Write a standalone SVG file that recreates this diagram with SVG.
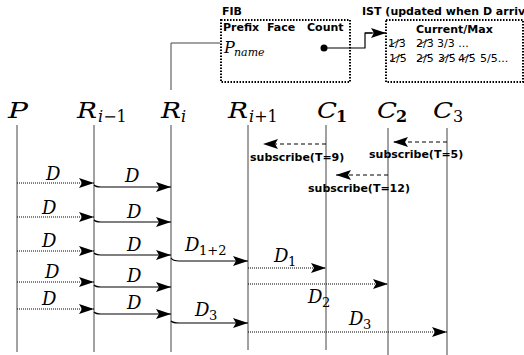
<svg xmlns="http://www.w3.org/2000/svg" width="524" height="355" viewBox="0 0 524 355">
<defs>
<style>
.life{stroke:#444;stroke-width:1;fill:none}
.m{font-family:"DejaVu Serif",serif;font-style:italic;fill:#000}
.up{font-style:normal}
.h{font-size:23px}
.hs{font-size:16px}
.d{font-size:18px}
.ds{font-size:13px}
.b{font-family:"DejaVu Sans",sans-serif;font-weight:bold;font-size:11px;fill:#000}
.r{font-family:"DejaVu Sans",sans-serif;font-size:11px;fill:#000}
.box{fill:none;stroke:#000;stroke-width:2;stroke-dasharray:1.5 1.5}
.solid{fill:none;stroke:#000;stroke-width:1.2;marker-end:url(#ah)}
.dot{fill:none;stroke:#000;stroke-width:1;stroke-dasharray:1 1;marker-end:url(#ah)}
.dash{fill:none;stroke:#000;stroke-width:1.2;stroke-dasharray:4 3;marker-end:url(#ah)}
.strike{fill:none;stroke:#000;stroke-width:0.9}
.thin{fill:none;stroke:#444;stroke-width:1}
</style>
<marker id="ah" markerWidth="15" markerHeight="10" refX="15" refY="5" orient="auto" markerUnits="userSpaceOnUse">
<path d="M0,0 L15,5 L0,10 L3,5 z" fill="#000"/>
</marker>
</defs>
<rect width="524" height="355" fill="#fff"/>

<g id="fib">
<text class="b" x="222" y="15">FIB</text>
<rect class="box" x="221" y="20" width="129" height="62"/>
<text class="b" x="223" y="31">Prefix</text>
<text class="b" x="267" y="31">Face</text>
<text class="b" x="307" y="31">Count</text>
<text class="m" x="224" y="53" font-size="16">P</text>
<text class="m" x="234" y="56" font-size="11">name</text>
<circle cx="324" cy="48" r="3.5" fill="#000"/>
</g>

<g id="ist">
<text class="b" x="362" y="15">IST (updated when D arriv</text>
<rect class="box" x="386" y="20" width="137" height="62"/>
<text class="b" x="416" y="33">Current/Max</text>
<text class="r" x="388" y="47">1/3</text>
<text class="r" x="416" y="47">2/3</text>
<text class="r" x="437" y="47">3/3 ...</text>
<text class="r" x="389" y="62">1/5</text>
<text class="r" x="416" y="62">2/5</text>
<text class="r" x="438" y="62">3/5</text>
<text class="r" x="458" y="62">4/5</text>
<text class="r" x="480" y="62">5/5...</text>
<path class="strike" d="M389,46 C394,43 399,40 404,39 M417,46 C422,43 427,40 432,39 M390,61 C395,58 400,55 405,54 M417,61 C422,58 427,55 432,54 M439,61 C444,58 449,55 454,54 M459,61 C464,58 469,55 474,54"/>
</g>

<g id="P">
<text class="m h" x="8" y="118" textLength="20" lengthAdjust="spacingAndGlyphs">P</text>
<line class="life" x1="17" y1="125" x2="17" y2="352"/>
</g>
<g id="R_im1">
<text class="m h" x="77" y="118" textLength="20" lengthAdjust="spacingAndGlyphs">R</text>
<text class="m hs" x="98" y="122">i<tspan class="up">−1</tspan></text>
<line class="life" x1="94" y1="125" x2="94" y2="352"/>
</g>
<g id="R_i">
<text class="m h" x="161" y="118" textLength="20" lengthAdjust="spacingAndGlyphs">R</text>
<text class="m hs" x="181" y="122">i</text>
<line class="life" x1="171" y1="125" x2="171" y2="352"/>
</g>
<g id="R_ip1">
<text class="m h" x="228" y="118" textLength="20" lengthAdjust="spacingAndGlyphs">R</text>
<text class="m hs" x="249" y="122">i<tspan class="up">+1</tspan></text>
<line class="life" x1="248" y1="125" x2="248" y2="350"/>
</g>
<g id="C1">
<text class="m h" x="317" y="118" textLength="20" lengthAdjust="spacingAndGlyphs">C</text>
<text class="m hs up" x="336" y="122" font-weight="bold">1</text>
<line class="life" x1="326" y1="125" x2="326" y2="350"/>
</g>
<g id="C2">
<text class="m h" x="377" y="118" textLength="20" lengthAdjust="spacingAndGlyphs">C</text>
<text class="m hs up" x="396" y="122" font-weight="bold">2</text>
<line class="life" x1="388" y1="128" x2="388" y2="355"/>
</g>
<g id="C3">
<text class="m h" x="433" y="118" textLength="20" lengthAdjust="spacingAndGlyphs">C</text>
<text class="m hs up" x="453" y="122">3</text>
<line class="life" x1="447" y1="128" x2="447" y2="355"/>
</g>

<g id="connectors">
<path class="thin" d="M171,90 L171,43 L220,43"/>
<path fill="none" stroke="#000" stroke-width="1.2" d="M324,48 L365,48 L365,33 L372,33"/>
<path class="solid" d="M365,33 L386,33"/>

<path class="dash" d="M326,144 L263,144"/>
<path class="dash" d="M447,142 L393,142"/>
<path class="dash" d="M388,175 L336,175"/>

<path class="dot" d="M17,183 L94,183"/>
<path class="solid" d="M94,185 Q96,187 101,187 L171,187"/>
<path class="dot" d="M17,217 L94,217"/>
<path class="solid" d="M94,220 Q96,222 101,222 L171,222"/>
<path class="dot" d="M17,251 L94,251"/>
<path class="solid" d="M94,253 Q96,255 101,255 L171,255"/>
<path class="solid" d="M171,258 Q173,261 179,261 L248,261"/>
<path class="dot" d="M17,282 L94,282"/>
<path class="solid" d="M94,285 Q96,287 101,287 L171,287"/>
<path class="dot" d="M17,309 L94,309"/>
<path class="solid" d="M94,312 Q96,314 101,314 L171,314"/>
<path class="solid" d="M171,321 Q173,323 179,323 L248,323"/>
<path class="dot" d="M248,268 L326,268"/>
<path class="dot" d="M248,284 L388,284"/>
<path class="dot" d="M248,332 L447,332"/>
</g>

<g id="labels">
<text class="b" x="250" y="161">subscribe(T=9)</text>
<text class="b" x="369" y="158">subscribe(T=5)</text>
<text class="b" x="308" y="192">subscribe(T=12)</text>

<text class="m d" x="46" y="180">D</text>
<text class="m d" x="125" y="182">D</text>
<text class="m d" x="42" y="214">D</text>
<text class="m d" x="127" y="218">D</text>
<text class="m d" x="42" y="247">D</text>
<text class="m d" x="127" y="251">D</text>
<text class="m d" x="185" y="251">D</text>
<text class="m ds up" x="199" y="255">1+2</text>
<text class="m d" x="45" y="278">D</text>
<text class="m d" x="127" y="282">D</text>
<text class="m d" x="42" y="305">D</text>
<text class="m d" x="127" y="309">D</text>
<text class="m d" x="195" y="316">D</text>
<text class="m ds up" x="209" y="320">3</text>
<text class="m d" x="274" y="262">D</text>
<text class="m ds up" x="288" y="266">1</text>
<text class="m d" x="308" y="303">D</text>
<text class="m ds up" x="322" y="307">2</text>
<text class="m d" x="349" y="325">D</text>
<text class="m ds up" x="363" y="329">3</text>
</g>
</svg>
